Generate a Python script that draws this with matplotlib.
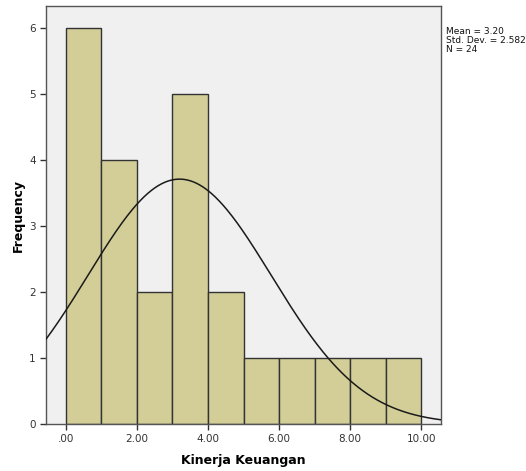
import numpy as np
import matplotlib
matplotlib.use("Agg")
import matplotlib.pyplot as plt

bin_edges = [0, 1, 2, 3, 4, 5, 6, 7, 8, 9, 10]
counts = [6, 4, 2, 5, 2, 1, 1, 1, 1, 1]
mean = 3.20
sd = 2.582
n = 24
xticks = [0, 2, 4, 6, 8, 10]
xticklabels = [".00", "2.00", "4.00", "6.00", "8.00", "10.00"]
yticks = [0, 1, 2, 3, 4, 5, 6]

fig = plt.figure(figsize=(5.26, 4.71), dpi=100)
ax = fig.add_axes([46/526, 47/471, (441-46)/526, (424-6)/471])
ax.set_facecolor("#F0F0F0")

lefts = bin_edges[:-1]
widths = np.diff(bin_edges)
ax.bar(lefts, counts, width=widths, align="edge", color="#D3CE98",
       edgecolor="#333333", linewidth=1.0, zorder=2)

xs = np.linspace(-0.56, 10.56, 400)
bw = widths[0]
ys = n * bw / (sd * np.sqrt(2 * np.pi)) * np.exp(-0.5 * ((xs - mean) / sd) ** 2)
ax.plot(xs, ys, color="#1a1a1a", linewidth=1.1, zorder=3)

ax.set_xlim(-0.56, 10.56)
ax.set_ylim(0, 6.33)
ax.set_xticks(xticks)
ax.set_xticklabels(xticklabels)
ax.set_yticks(yticks)
ax.tick_params(axis="both", labelsize=7.5, colors="#333333", length=4, width=1, direction="out")
for s in ax.spines.values():
    s.set_color("#555555")
    s.set_linewidth(1.0)

ax.set_xlabel("Kinerja Keuangan", fontsize=9, fontweight="bold", labelpad=7)
ax.set_ylabel("Frequency", fontsize=9, fontweight="bold", labelpad=3)

fig.text(446/526, 1 - 27/471, f"Mean = {mean:.2f}\nStd. Dev. = {sd:.3f}\nN = {n}",
         fontsize=6.5, va="top", ha="left", linespacing=1.0, color="#111111")

fig.savefig("out.png", dpi=100)
